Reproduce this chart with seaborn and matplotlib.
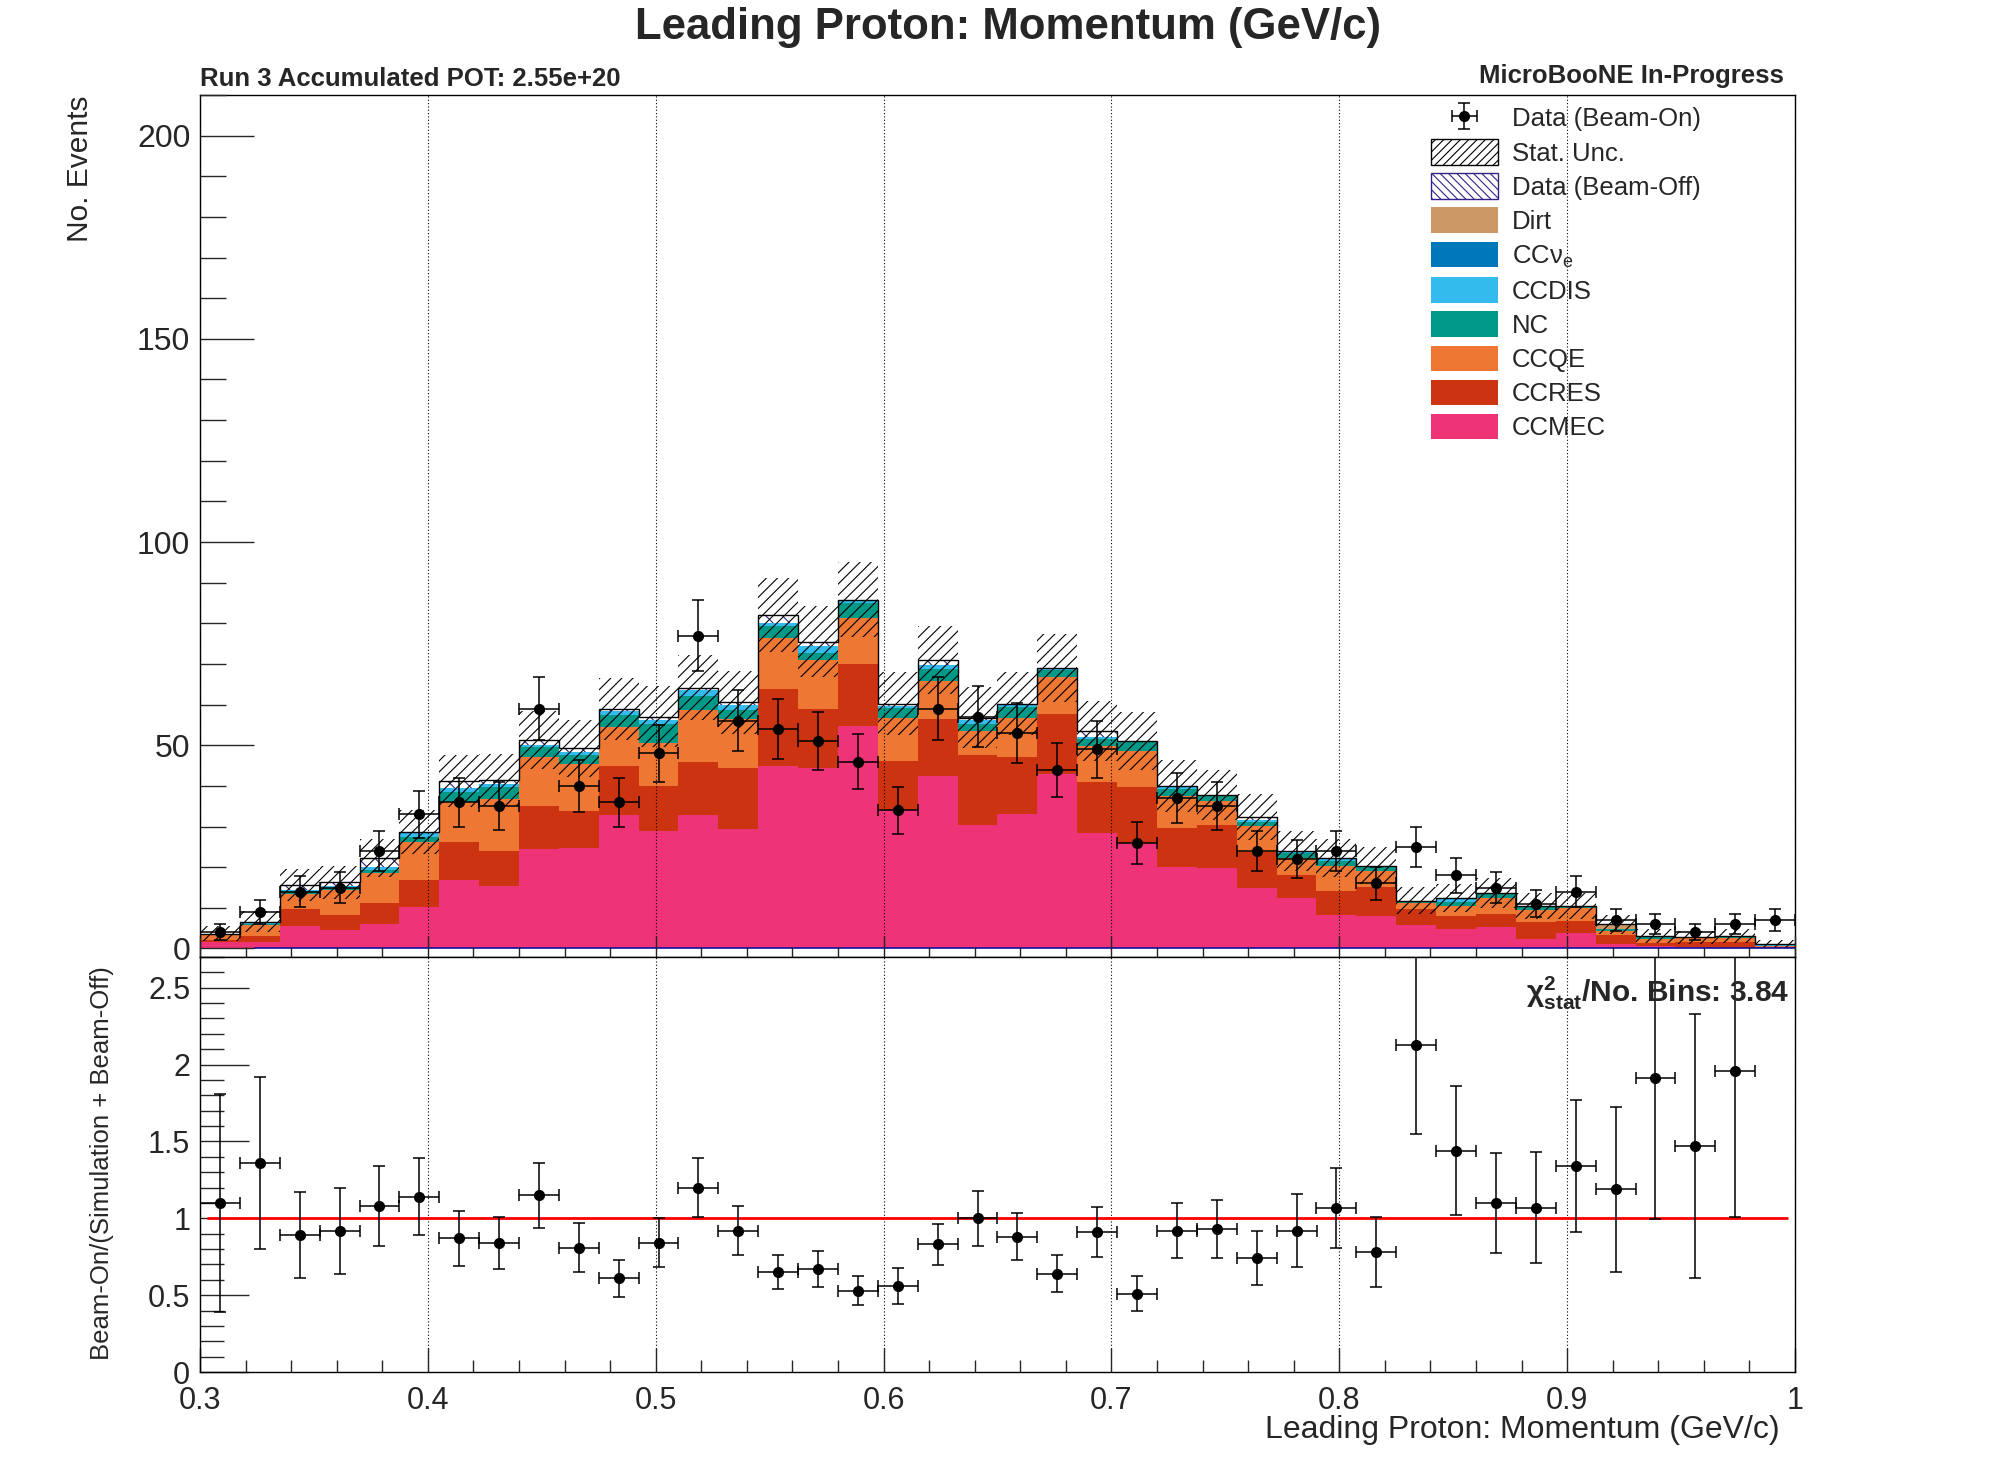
import numpy as np
import pandas as pd
import matplotlib
matplotlib.use("Agg")
import matplotlib.pyplot as plt
from matplotlib.patches import Patch
from matplotlib.ticker import MultipleLocator, FormatStrFormatter, FuncFormatter
import seaborn as sns

# Binning: 40 bins from 0.3 to 1.0 GeV/c
edges = np.linspace(0.3, 1.0, 41)
centers = 0.5 * (edges[:-1] + edges[1:])
half_width = 0.5 * (edges[1] - edges[0])

# Simulation components per bin (events), bottom of the stack first
ccmec = [1.7, 1.6, 5.5, 4.5, 6.0, 10.3, 16.8, 15.4, 24.5, 24.7,
         32.8, 28.9, 32.8, 29.5, 44.9, 44.4, 54.8, 34.0, 42.4, 30.4,
         33.1, 42.9, 28.4, 25.9, 20.0, 19.8, 14.9, 12.4, 8.2, 8.0,
         5.8, 4.8, 5.3, 2.3, 3.8, 1.1, 0.6, 0.4, 0.2, 0.1]
ccres = [0.5, 1.4, 4.2, 3.7, 5.2, 6.5, 9.4, 8.7, 10.6, 9.1,
         12.1, 11.1, 13.1, 15.0, 19.0, 14.5, 15.2, 12.2, 14.1, 17.2,
         14.0, 14.8, 12.6, 13.8, 9.6, 10.6, 8.9, 5.7, 5.9, 7.1,
         3.9, 3.2, 3.2, 4.3, 2.9, 2.2, 0.8, 1.2, 1.4, 0.3]
ccqe = [1.1, 2.7, 3.8, 6.3, 7.3, 9.5, 9.8, 12.6, 11.9, 11.6,
        9.6, 10.5, 12.8, 11.9, 12.6, 12.1, 11.4, 10.6, 9.2, 5.8,
        9.7, 9.0, 8.7, 9.0, 7.9, 5.9, 6.4, 4.1, 6.2, 4.0,
        1.4, 2.5, 4.0, 2.9, 3.2, 0.9, 0.9, 0.9, 1.0, 0.2]
nc = [0.15, 0.3, 0.7, 0.5, 0.8, 1.2, 2.6, 3.1, 2.6, 2.3,
      3.0, 4.8, 3.3, 2.3, 2.9, 1.8, 3.6, 2.3, 3.0, 1.9,
      2.6, 1.7, 1.9, 2.0, 1.7, 1.1, 1.0, 1.2, 1.2, 1.0,
      0.6, 1.0, 0.8, 0.6, 0.5, 0.5, 0.4, 0.1, 0.2, 0.1]
ccdis = [0.15, 0.3, 0.2, 0.3, 0.8, 1.0, 1.0, 0.7, 0.4, 0.7,
         1.0, 0.8, 1.5, 1.2, 0.8, 1.7, 0.4, 0.6, 1.1, 0.9,
         0.5, 0.4, 0.5, 0.2, 0.6, 0.3, 0.4, 0.6, 0.7, 0.2,
         0.0, 0.8, 0.3, 0.1, 0.0, 0.1, 0.2, 0.1, 0.1, 0.3]
ccnue = [0.0] * 40
dirt = [0.0] * 35 + [0.9, 0.0, 0.0, 0.0, 0.0]
beam_off = [0.05, 0.3, 1.2, 1.0, 2.1, 0.2, 1.6, 1.0, 1.2, 0.9,
            0.4, 0.9, 0.7, 0.7, 1.8, 1.0, 0.4, 0.5, 1.2, 0.6,
            0.3, 0.2, 1.4, 0.1, 0.2, 0.1, 0.7, 0.0, 0.1, 0.1,
            0.1, 0.1, 0.1, 0.2, 0.1, 0.2, 0.2, 0.0, 0.1, 0.0]

# Beam-on data counts
data_on = [4, 9, 14, 15, 24, 33, 36, 35, 59, 40,
           36, 48, 77, 56, 54, 51, 46, 34, 59, 57,
           53, 44, 49, 26, 37, 35, 24, 22, 24, 16,
           25, 18, 15, 11, 14, 7, 6, 4, 6, 7]

# Ratio panel: Beam-On / (Simulation + Beam-Off) and its uncertainty
ratio = [1.10, 1.36, 0.89, 0.92, 1.08, 1.14, 0.87, 0.84, 1.15, 0.81,
         0.61, 0.84, 1.20, 0.92, 0.65, 0.67, 0.53, 0.56, 0.83, 1.00,
         0.88, 0.64, 0.91, 0.51, 0.92, 0.93, 0.74, 0.92, 1.07, 0.78,
         2.13, 1.44, 1.10, 1.07, 1.34, 1.19, 1.91, 1.47, 1.96, np.nan]
ratio_err = [0.71, 0.56, 0.28, 0.28, 0.26, 0.25, 0.18, 0.17, 0.21, 0.16,
             0.12, 0.16, 0.19, 0.16, 0.11, 0.115, 0.095, 0.117, 0.135, 0.177,
             0.152, 0.12, 0.165, 0.116, 0.18, 0.19, 0.175, 0.24, 0.26, 0.226,
             0.58, 0.42, 0.325, 0.36, 0.427, 0.537, 0.916, 0.858, 0.95, np.nan]

components = {"CCMEC": ccmec, "CCRES": ccres, "CCQE": ccqe, "NC": nc,
              "CCDIS": ccdis, "CCν$_\\mathregular{e}$": ccnue, "Dirt": dirt}
colors = {"CCMEC": "#EE3377", "CCRES": "#CC3311", "CCQE": "#EE7733",
          "NC": "#009988", "CCDIS": "#33BBEE", "CCν$_\\mathregular{e}$": "#0077BB",
          "Dirt": "#CC9966"}
legend_order = ["Dirt", "CCν$_\\mathregular{e}$", "CCDIS", "NC", "CCQE", "CCRES", "CCMEC"]
off_color = "#332288"

long_df = pd.DataFrame({
    "p": np.tile(centers, len(components)),
    "w": np.concatenate([np.asarray(v, float) for v in components.values()]),
    "mode": np.repeat(list(components.keys()), len(centers)),
})

mc_total = np.sum([np.asarray(v, float) for v in components.values()], axis=0)
total = mc_total + np.asarray(beam_off)
stat_unc = np.sqrt(total)
data_on = np.asarray(data_on, float)

sns.set_theme(style="ticks")
plt.rcParams["font.family"] = ["Liberation Sans", "DejaVu Sans"]
plt.rcParams["mathtext.fontset"] = "custom"
plt.rcParams["mathtext.rm"] = "Liberation Sans"
plt.rcParams["mathtext.bf"] = "Liberation Sans:bold"
plt.rcParams["hatch.linewidth"] = 0.8
plt.rcParams["axes.linewidth"] = 1.0
plt.rcParams["axes.edgecolor"] = "black"

W, H = 1996, 1472
fig = plt.figure(figsize=(W / 100, H / 100), dpi=100)
ax = fig.add_axes([200 / W, 1 - 957 / H, 1595 / W, 862 / H])
ax2 = fig.add_axes([200 / W, 1 - 1372 / H, 1595 / W, 415 / H], sharex=ax)

# Stacked simulation
sns.histplot(data=long_df, x="p", weights="w", hue="mode", hue_order=legend_order,
             bins=list(edges), multiple="stack", element="step", fill=True,
             palette=colors, alpha=1, linewidth=0, legend=False, ax=ax)

# Beam-off on top of the simulation
ax.stairs(total, edges, baseline=mc_total, fill=True, facecolor="white",
          edgecolor=off_color, hatch="\\\\", linewidth=0)
ax.stairs(total, edges, baseline=None, color="black", linewidth=1.0)
ax.hlines(0, 0.3237, 1.0, color="#1010a0", linewidth=1.2)

# Statistical uncertainty band
ax.stairs(total + stat_unc, edges, baseline=total - stat_unc, fill=True,
          facecolor="none", edgecolor="black", hatch="///", linewidth=0)

data_handle = ax.errorbar(centers, data_on, xerr=half_width, yerr=np.sqrt(data_on),
                          fmt="o", color="black", ms=7, elinewidth=1.1,
                          capsize=4, capthick=1.1, zorder=5)

ax.set_xlim(0.3, 1.0)
ax.set_ylim(-2.1, 210)
ax.set_xlabel("")
ax.set_ylabel("")
ax.yaxis.set_major_locator(MultipleLocator(50))
ax.yaxis.set_minor_locator(MultipleLocator(10))
ax.xaxis.set_major_locator(MultipleLocator(0.1))
ax.xaxis.set_minor_locator(MultipleLocator(0.02))
ax.tick_params(axis="y", which="major", direction="in", length=39, width=1,
               labelsize=23, pad=7, right=False)
ax.tick_params(axis="y", which="minor", direction="in", length=19, width=1, right=False)
ax.tick_params(axis="x", which="major", direction="in", length=15, width=1,
               labelbottom=False, top=False)
ax.tick_params(axis="x", which="minor", direction="in", length=7.5, width=1, top=False)
ax.yaxis.set_major_formatter(FormatStrFormatter("%d"))
ax.xaxis.grid(True, which="major", linestyle=(0, (1, 2)), color="black", linewidth=0.8)
ax.set_axisbelow(False)

handles = [data_handle,
           Patch(facecolor="white", edgecolor="black", hatch="////", linewidth=1),
           Patch(facecolor="white", edgecolor=off_color, hatch="\\\\\\\\", linewidth=1)]
handles += [Patch(facecolor=colors[k], edgecolor="none") for k in legend_order]
labels = ["Data (Beam-On)", "Stat. Unc.", "Data (Beam-Off)"] + legend_order
ax.legend(handles, labels, loc="upper left", bbox_to_anchor=(1431 / W, 1 - 105 / H),
          bbox_transform=fig.transFigure, frameon=False, fontsize=18.5,
          handlelength=2.6, handleheight=1.15, handletextpad=0.55,
          labelspacing=0.3, borderpad=0, borderaxespad=0)

# Ratio panel
ax2.errorbar(centers, ratio, xerr=half_width, yerr=ratio_err, fmt="o",
             color="black", ms=7, elinewidth=1.1, capsize=4, capthick=1.1, zorder=5)
ax2.hlines(1, 0.303, 0.997, color="red", linewidth=2)
ax2.set_ylim(0, 2.7)
ax2.set_xlim(0.3, 1.0)
ax2.yaxis.set_major_locator(MultipleLocator(0.5))
ax2.yaxis.set_minor_locator(MultipleLocator(0.1))
fmt_g = FuncFormatter(lambda v, pos: f"{v:g}")
ax2.yaxis.set_major_formatter(fmt_g)
ax2.xaxis.set_major_formatter(fmt_g)
ax2.tick_params(axis="y", which="major", direction="in", length=35, width=1,
                labelsize=22, pad=7, right=False)
ax2.tick_params(axis="y", which="minor", direction="in", length=17, width=1, right=False)
ax2.tick_params(axis="x", which="major", direction="in", length=17, width=1,
                labelsize=22, pad=10, top=False)
ax2.tick_params(axis="x", which="minor", direction="in", length=9, width=1, top=False)
ax2.xaxis.grid(True, which="major", linestyle=(0, (1, 2)), color="black", linewidth=0.8)

# Texts
fig.text(1008 / W, 1 - 28 / H, "Leading Proton: Momentum (GeV/c)", ha="center",
         va="center", fontsize=31.5, fontweight="bold")
fig.text(200 / W, 1 - 79 / H, "Run 3 Accumulated POT: 2.55e+20", ha="left",
         va="center", fontsize=18.5, fontweight="bold")
fig.text(1784 / W, 1 - 76 / H, "MicroBooNE In-Progress", ha="right",
         va="center", fontsize=18.5, fontweight="bold")
fig.text(80 / W, 1 - 95 / H, "No. Events", rotation=90, ha="center", va="top",
         fontsize=21.5)
fig.text(102 / W, 1 - 1163 / H, "Beam-On/(Simulation + Beam-Off)", rotation=90,
         ha="center", va="center", fontsize=18.5)
fig.text(1780 / W, 1 - 1430 / H, "Leading Proton: Momentum (GeV/c)", ha="right",
         va="center", fontsize=23)
fig.text(1789 / W, 1 - 993 / H, "$\\mathbf{χ^{2}_{stat}}$/No. Bins: 3.84",
         ha="right", va="center", fontsize=21.5, fontweight="bold")

fig.savefig("out.png", dpi=100)
